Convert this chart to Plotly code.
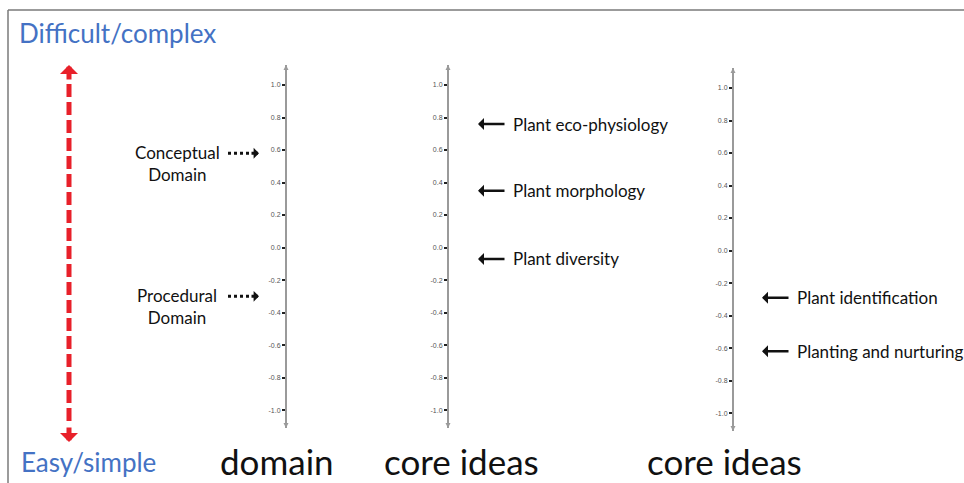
import plotly.graph_objects as go

# ---------------- data ----------------
tick_vals = [1.0, 0.8, 0.6, 0.4, 0.2, 0.0, -0.2, -0.4, -0.6, -0.8, -1.0]
tick_text = ["1.0", "0.8", "0.6", "0.4", "0.2", "0.0", "-0.2", "-0.4", "-0.6", "-0.8", "-1.0"]

domain_labels = ["Conceptual<br>Domain", "Procedural<br>Domain"]
domain_values = [0.58, -0.30]

core1_labels = ["Plant eco-physiology", "Plant morphology", "Plant diversity"]
core1_values = [0.76, 0.35, -0.07]

core2_labels = ["Plant identification", "Planting and nurturing"]
core2_values = [-0.29, -0.62]

axis_titles = ["domain", "core ideas", "core ideas"]
scale_top = "Difficult/complex"
scale_bottom = "Easy/simple"

# ---------------- layout constants ----------------
W, H = 964, 483
AX_X = [286, 448, 733]             # pixel x of the three vertical axes
Y_RANGE = [-1.11, 1.123]
BLUE = "#4472C4"
RED = "#E8202A"
AXIS_GREY = "#9a9a9a"
FONT = "Lato"

def py(p):  # pixel y -> paper y
    return 1 - p / H

def px(p):  # pixel x -> paper x
    return p / W

fig = go.Figure()

# invisible anchor traces so every axis is drawn
for i, yref in enumerate(["y", "y2", "y3"]):
    fig.add_trace(go.Scatter(x=[AX_X[i]], y=[0], xaxis="x", yaxis=yref,
                             mode="markers", marker=dict(opacity=0),
                             hoverinfo="skip", showlegend=False))

yaxis_common = dict(
    range=Y_RANGE, tickvals=tick_vals, ticktext=tick_text,
    showline=True, linecolor=AXIS_GREY, linewidth=2,
    ticks="outside", ticklen=3, tickwidth=2, tickcolor="#222",
    tickfont=dict(size=7, color="#555", family="Arial"),
    showgrid=False, zeroline=False, anchor="free", fixedrange=True,
)

fig.update_layout(
    width=W, height=H, margin=dict(l=0, r=0, t=0, b=0),
    paper_bgcolor="white", plot_bgcolor="rgba(0,0,0,0)",
    showlegend=False,
    xaxis=dict(range=[0, W], domain=[0, 1], visible=False, fixedrange=True),
    yaxis=dict(domain=[py(428), py(65)], position=px(AX_X[0]), **yaxis_common),
    yaxis2=dict(domain=[py(428), py(65)], position=px(AX_X[1]), overlaying="y", **yaxis_common),
    yaxis3=dict(domain=[py(431), py(68)], position=px(AX_X[2]), **yaxis_common),
)

ann = []
shapes = []

# frame (top and left border)
shapes.append(dict(type="line", xref="paper", yref="paper", x0=px(8), x1=1, y0=py(10), y1=py(10),
                   line=dict(color="#7a7a7a", width=1.5)))
shapes.append(dict(type="line", xref="paper", yref="paper", x0=px(8), x1=px(8),
                   y0=py(10), y1=0, line=dict(color="#7a7a7a", width=1.5)))

# small arrowheads at both ends of each axis
for i, yref in enumerate(["y", "y2", "y3"]):
    for end, off in [(Y_RANGE[1], 8), (Y_RANGE[0], -8)]:
        ann.append(dict(x=AX_X[i], y=end, xref="x", yref=yref, text="", showarrow=True,
                        ax=0, ay=off, arrowhead=2, arrowwidth=1, arrowsize=1,
                        arrowcolor=AXIS_GREY, standoff=0))

# red dashed double arrow
shapes.append(dict(type="line", xref="x", yref="paper", x0=69, x1=69, y0=py(84), y1=py(424),
                   line=dict(color=RED, width=5, dash="13px,5px")))
for tip, off in [(65, 16), (442, -16)]:
    ann.append(dict(x=69, y=py(tip), xref="x", yref="paper", text="", showarrow=True,
                    ax=0, ay=off, arrowhead=1, arrowwidth=5, arrowsize=0.6,
                    arrowcolor=RED, standoff=0))

# scale labels
ann.append(dict(x=17, y=py(33), xref="x", yref="paper", text=scale_top, showarrow=False,
                xanchor="left", yanchor="middle", font=dict(family=FONT, size=26, color=BLUE)))
ann.append(dict(x=19, y=py(462), xref="x", yref="paper", text=scale_bottom, showarrow=False,
                xanchor="left", yanchor="middle", font=dict(family=FONT, size=26, color=BLUE)))

# axis titles
title_x = [277, 461, 724]
for t, x in zip(axis_titles, title_x):
    ann.append(dict(x=x, y=py(461), xref="x", yref="paper", text=t, showarrow=False,
                    xanchor="center", yanchor="middle",
                    font=dict(family=FONT, size=35, color="#111")))

# domain: dotted arrows pointing right
for lab, v in zip(domain_labels, domain_values):
    shapes.append(dict(type="line", xref="x", yref="y", x0=228, x1=251, y0=v, y1=v,
                       line=dict(color="#111", width=3, dash="dot")))
    ann.append(dict(x=259, y=v, xref="x", yref="y", text="", showarrow=True,
                    ax=-9, ay=0, arrowhead=1, arrowwidth=3, arrowsize=0.6,
                    arrowcolor="#111", standoff=0))
    ann.append(dict(x=177, y=v, xref="x", yref="y", text=lab, showarrow=False,
                    xanchor="center", yanchor="top", yshift=13,
                    font=dict(family=FONT, size=17, color="#111")))

# core ideas: solid arrows pointing left
def core(labels, values, yref, tip_x):
    for lab, v in zip(labels, values):
        ann.append(dict(x=tip_x, y=v, xref="x", yref=yref, text="", showarrow=True,
                        ax=28, ay=0, arrowhead=1, arrowwidth=2.5, arrowsize=0.8,
                        arrowcolor="#111", standoff=0))
        ann.append(dict(x=tip_x + 33, y=v, xref="x", yref=yref, text=lab, showarrow=False,
                        xanchor="left", yanchor="middle",
                        font=dict(family=FONT, size=17, color="#111")))

core(core1_labels, core1_values, "y2", 478)
core(core2_labels, core2_values, "y3", 762)

fig.update_layout(annotations=ann, shapes=shapes)
fig.write_html(
    "out.html",
    config={"displayModeBar": False, "staticPlot": True},
    post_script="document.body.style.margin='0';document.body.style.overflow='hidden';",
)
